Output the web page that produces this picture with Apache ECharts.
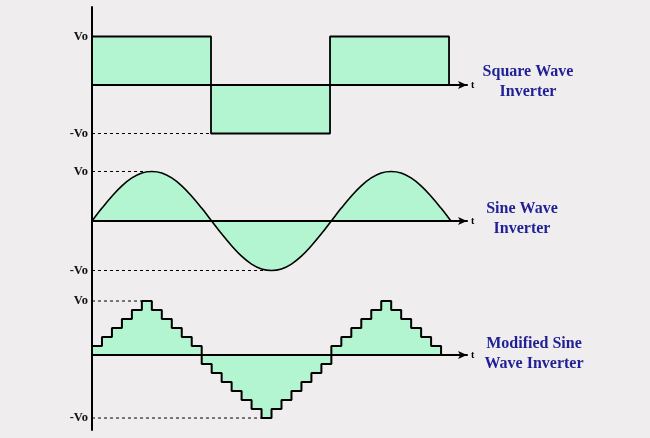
<!DOCTYPE html>
<html>
<head>
<meta charset="utf-8">
<script src="https://cdn.jsdelivr.net/npm/echarts@6/dist/echarts.min.js"></script>
<style>
html,body{margin:0;padding:0;background:#efedee;}
#chart{width:650px;height:438px;}
</style>
</head>
<body>
<div id="chart"></div>
<script>
// ---- data ----
// Square wave: level in each half period (units of Vo)
const squareLevels = [1, -1, 1];
// Sine wave: samples every 1/12 of a half period (units of Vo)
const sineValues = [0, 0.26, 0.5, 0.71, 0.87, 0.97, 1, 0.97, 0.87, 0.71, 0.5, 0.26,
  0, -0.26, -0.5, -0.71, -0.87, -0.97, -1, -0.97, -0.87, -0.71, -0.5, -0.26,
  0, 0.26, 0.5, 0.71, 0.87, 0.97, 1, 0.97, 0.87, 0.71, 0.5, 0.26, 0];
const sineStep = 1 / 12;
// Modified sine: step levels, one per equal time slot
const stepLevels = [1, 2, 3, 4, 5, 6, 5, 4, 3, 2, 1,
  -1, -2, -3, -4, -5, -6, -7, -6, -5, -4, -3, -2, -1,
  1, 2, 3, 4, 5, 6, 5, 4, 3, 2, 1];
const axisLabelsText = { pos: 'Vo', neg: '-Vo' };
const titles = ['Square Wave\nInverter', 'Sine Wave\nInverter', 'Modified Sine\nWave Inverter'];

// ---- build series data ----
const squareData = [[0, 0]];
squareLevels.forEach((l, i) => { squareData.push([i, l]); squareData.push([i + 1, l]); });
squareData.push([squareLevels.length, 0]);
const sqNegStart = squareLevels.indexOf(-1);
const sqMin = Math.min(...squareLevels), sqMax = Math.max(...squareLevels);

const sineData = sineValues.map((v, i) => [i * sineStep, v]);
const sMax = Math.max(...sineValues), sMin = Math.min(...sineValues);
const sPeakT = sineValues.indexOf(sMax) * sineStep;
const sTroughT = sineValues.indexOf(sMin) * sineStep;

const stepData = [[0, 0]];
stepLevels.forEach((l, i) => stepData.push([i, l]));
stepData.push([stepLevels.length, stepLevels[stepLevels.length - 1]]);
stepData.push([stepLevels.length, 0]);
const stMax = Math.max(...stepLevels), stMin = Math.min(...stepLevels);
const stPeakI = stepLevels.indexOf(stMax), stTroughI = stepLevels.indexOf(stMin);

const FILL = '#b3f5d0';
const labelFont = { fontFamily: 'Liberation Serif', fontWeight: 'bold', fontSize: 12.5, color: '#111', margin: 4 };

function xAxisCfg(idx, max) {
  return {
    type: 'value', gridIndex: idx, min: 0, max: max, z: 5,
    axisLine: { onZero: true, symbol: ['none', 'arrow'], symbolSize: [6, 9], lineStyle: { color: '#000', width: 2 } },
    axisTick: { show: false }, axisLabel: { show: false }, splitLine: { show: false },
    name: 't', nameLocation: 'end', nameGap: 4,
    nameTextStyle: { fontFamily: 'Liberation Serif', fontSize: 10, fontWeight: 'bold', color: '#000' }
  };
}
function yAxisCfg(idx, min, max, posV, negV) {
  return {
    type: 'value', gridIndex: idx, min: min, max: max, z: 5,
    axisLine: { show: true, onZero: false, lineStyle: { color: '#000', width: 2 } },
    axisTick: { show: false }, splitLine: { show: false },
    axisLabel: Object.assign({
      customValues: [negV, posV],
      formatter: v => (v === posV ? axisLabelsText.pos : (v === negV ? axisLabelsText.neg : ''))
    }, labelFont)
  };
}
const dashStyle = { color: '#000', width: 1, type: [3, 3] };
function dashSeries(idx, pts) {
  return { type: 'line', xAxisIndex: idx, yAxisIndex: idx, data: pts, symbol: 'none', lineStyle: dashStyle, silent: true, z: 1 };
}

const chart = echarts.init(document.getElementById('chart'));
chart.setOption({
  backgroundColor: '#efedee',
  animation: false,
  grid: [
    { left: 92, top: 7, width: 375, height: 143 },
    { left: 92, top: 150, width: 375, height: 135 },
    { left: 92, top: 285, width: 375, height: 145 }
  ],
  xAxis: [xAxisCfg(0, 3.151), xAxisCfg(1, 3.134), xAxisCfg(2, 37.6)],
  yAxis: [
    yAxisCfg(0, -1.34, 1.608, sqMax, sqMin),
    yAxisCfg(1, -1.293, 1.434, sMax, sMin),
    yAxisCfg(2, -8.33, 7.78, stMax, stMin)
  ],
  series: [
    { type: 'line', xAxisIndex: 0, yAxisIndex: 0, data: squareData, symbol: 'none',
      lineStyle: { color: '#000', width: 1.8 }, areaStyle: { color: FILL, opacity: 1, origin: 0 }, z: 2 },
    dashSeries(0, [[0, sqMin], [sqNegStart, sqMin]]),
    { type: 'line', xAxisIndex: 1, yAxisIndex: 1, data: sineData, symbol: 'none', smooth: 0.4,
      lineStyle: { color: '#000', width: 1.6 }, areaStyle: { color: FILL, opacity: 1, origin: 0 }, z: 2 },
    dashSeries(1, [[0, sMax], [sPeakT, sMax]]),
    dashSeries(1, [[0, sMin], [sTroughT, sMin]]),
    { type: 'line', xAxisIndex: 2, yAxisIndex: 2, data: stepData, symbol: 'none', step: 'end',
      lineStyle: { color: '#000', width: 2 }, areaStyle: { color: FILL, opacity: 1, origin: 0 }, z: 2 },
    dashSeries(2, [[0, stMax], [stPeakI, stMax]]),
    dashSeries(2, [[0, stMin], [stTroughI, stMin]])
  ],
  graphic: [
    { type: 'text', x: 528, y: 82, style: { text: titles[0], textAlign: 'center', textVerticalAlign: 'middle', font: 'bold 16px "Liberation Serif"', fill: '#1f1f96', lineHeight: 20 } },
    { type: 'text', x: 522, y: 219, style: { text: titles[1], textAlign: 'center', textVerticalAlign: 'middle', font: 'bold 16px "Liberation Serif"', fill: '#1f1f96', lineHeight: 20 } },
    { type: 'text', x: 534, y: 354, style: { text: titles[2], textAlign: 'center', textVerticalAlign: 'middle', font: 'bold 16px "Liberation Serif"', fill: '#1f1f96', lineHeight: 20 } }
  ]
});
</script>
</body>
</html>
